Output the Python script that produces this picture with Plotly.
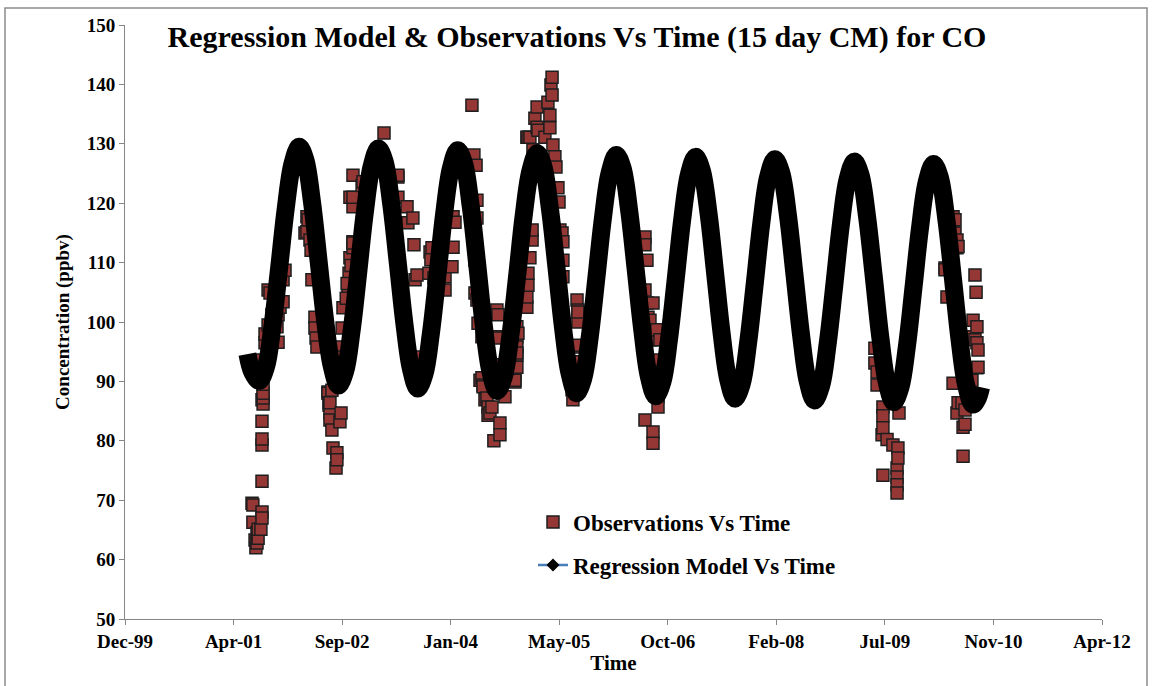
import plotly.graph_objects as go

chart_title = "Regression Model & Observations Vs Time (15 day CM) for CO"
x_title = "Time"
y_title = "Concentration (ppbv)"
obs_name = "Observations Vs Time"
model_name = "Regression Model Vs Time"

tick_dates = ["1999-12-06", "2001-04-19", "2002-09-01", "2004-01-14", "2005-05-28",
              "2006-10-10", "2008-02-22", "2009-07-06", "2010-11-18", "2012-04-01"]
tick_labels = ["Dec-99", "Apr-01", "Sep-02", "Jan-04", "May-05",
               "Oct-06", "Feb-08", "Jul-09", "Nov-10", "Apr-12"]
y_ticks = [50, 60, 70, 80, 90, 100, 110, 120, 130, 140, 150]

# Regression model (mid-month samples)
model_dates = [
    "2001-06-22", "2001-07-15", "2001-08-15", "2001-09-15", "2001-10-15", "2001-11-15", "2001-12-15",
    "2002-01-15", "2002-02-15", "2002-03-15", "2002-04-15", "2002-05-15", "2002-06-15",
    "2002-07-15", "2002-08-15", "2002-09-15", "2002-10-15", "2002-11-15", "2002-12-15",
    "2003-01-15", "2003-02-15", "2003-03-15", "2003-04-15", "2003-05-15", "2003-06-15",
    "2003-07-15", "2003-08-15", "2003-09-15", "2003-10-15", "2003-11-15", "2003-12-15",
    "2004-01-15", "2004-02-15", "2004-03-15", "2004-04-15", "2004-05-15", "2004-06-15",
    "2004-07-15", "2004-08-15", "2004-09-15", "2004-10-15", "2004-11-15", "2004-12-15",
    "2005-01-15", "2005-02-15", "2005-03-15", "2005-04-15", "2005-05-15", "2005-06-15",
    "2005-07-15", "2005-08-15", "2005-09-15", "2005-10-15", "2005-11-15", "2005-12-15",
    "2006-01-15", "2006-02-15", "2006-03-15", "2006-04-15", "2006-05-15", "2006-06-15",
    "2006-07-15", "2006-08-15", "2006-09-15", "2006-10-15", "2006-11-15", "2006-12-15",
    "2007-01-15", "2007-02-15", "2007-03-15", "2007-04-15", "2007-05-15", "2007-06-15",
    "2007-07-15", "2007-08-15", "2007-09-15", "2007-10-15", "2007-11-15", "2007-12-15",
    "2008-01-15", "2008-02-15", "2008-03-15", "2008-04-15", "2008-05-15", "2008-06-15",
    "2008-07-15", "2008-08-15", "2008-09-15", "2008-10-15", "2008-11-15", "2008-12-15",
    "2009-01-15", "2009-02-15", "2009-03-15", "2009-04-15", "2009-05-15", "2009-06-15",
    "2009-07-15", "2009-08-15", "2009-09-15", "2009-10-15", "2009-11-15", "2009-12-15",
    "2010-01-15", "2010-02-15", "2010-03-15", "2010-04-15", "2010-05-15", "2010-06-15",
    "2010-07-15", "2010-08-15", "2010-09-05", "2010-09-22",
]
model_values = [
    94.6, 91.5, 90.1, 92.4, 99.3, 109.1, 119.0,
    126.6, 129.5, 127.4, 120.3, 110.5, 100.2, 92.6, 89.3, 91.7, 98.6, 108.6, 118.6,
    126.2, 129.2, 127.1, 119.9, 110.1, 99.7, 92.1, 88.8, 91.2, 98.1, 108.2, 118.2,
    125.9, 128.9, 126.8, 119.6, 109.8, 99.3, 91.7, 88.4, 90.8, 97.7, 107.7, 117.8,
    125.4, 128.4, 126.3, 119.1, 109.3, 98.9, 91.3, 88.0, 90.4, 97.3, 107.4, 117.4,
    125.1, 128.1, 126.0, 118.8, 108.9, 98.5, 90.8, 87.5, 89.9, 96.9, 107.0, 117.1,
    124.8, 127.8, 125.6, 118.5, 108.6, 98.1, 90.4, 87.1, 89.5, 96.5, 106.6, 116.7,
    124.4, 127.4, 125.2, 118.1, 108.2, 97.8, 90.1, 86.8, 89.2, 96.2, 106.2, 116.3,
    124.0, 127.0, 124.9, 117.7, 107.9, 97.4, 89.8, 86.5, 88.9, 95.8, 105.9, 115.9,
    123.6, 126.6, 124.5, 117.3, 107.5, 97.0, 89.4, 86.1, 87.0, 89.0,
]

# Observations (15 day CM)
obs_dates = [
    # 2001
    "2001-07-13", "2001-07-17", "2001-07-17", "2001-07-27", "2001-07-31", "2001-08-05", "2001-08-05",
    "2001-08-10", "2001-08-10", "2001-08-23", "2001-08-28", "2001-08-28", "2001-08-28", "2001-08-28",
    "2001-08-28", "2001-08-28", "2001-08-28", "2001-08-28", "2001-09-02", "2001-09-02", "2001-09-02",
    "2001-09-02", "2001-09-02", "2001-09-11", "2001-09-11", "2001-09-25", "2001-09-25", "2001-10-04",
    "2001-10-04", "2001-10-13", "2001-10-27", "2001-11-05", "2001-11-10", "2001-11-10", "2001-11-19",
    "2001-12-03", "2001-12-03", "2001-12-12",
    # 2002
    "2002-03-14", "2002-03-23", "2002-03-23", "2002-03-28", "2002-04-06", "2002-04-11", "2002-04-15",
    "2002-04-29", "2002-04-29", "2002-05-04", "2002-05-08", "2002-06-28", "2002-06-28", "2002-07-03",
    "2002-07-03", "2002-07-07", "2002-07-07", "2002-07-07", "2002-07-16", "2002-07-16", "2002-07-21",
    "2002-08-04", "2002-08-08", "2002-08-08", "2002-08-22", "2002-08-22", "2002-08-22", "2002-08-27",
    "2002-09-01", "2002-09-05", "2002-09-28", "2002-10-03", "2002-10-07", "2002-10-07", "2002-10-21",
    "2002-10-21", "2002-10-21", "2002-10-21", "2002-10-21", "2002-10-21", "2002-12-02", "2002-12-06",
    "2002-09-20", "2002-09-24", "2002-10-12",
    # 2003
    "2003-03-13", "2003-05-16", "2003-05-16", "2003-05-16", "2003-06-27", "2003-07-01", "2003-07-24",
    "2003-07-29", "2003-08-03", "2003-08-12", "2003-08-16", "2003-10-06", "2003-10-11", "2003-10-20",
    "2003-10-29", "2003-12-19", "2003-12-19", "2003-11-10", "2003-10-15",
    # 2004
    "2004-01-20", "2004-01-25", "2004-01-25", "2004-02-03", "2004-04-21", "2004-04-30", "2004-05-05",
    "2004-05-05", "2004-05-10", "2004-05-14", "2004-05-14", "2004-05-14", "2004-05-19", "2004-05-28",
    "2004-06-06", "2004-06-06", "2004-06-11", "2004-06-11", "2004-06-20", "2004-06-29", "2004-07-04",
    "2004-07-04", "2004-07-13", "2004-07-22", "2004-07-31", "2004-08-14", "2004-08-14", "2004-08-14",
    "2004-08-19", "2004-08-19", "2004-08-28", "2004-08-28", "2004-09-20", "2004-11-05", "2004-11-05",
    "2004-11-05", "2004-11-05", "2004-11-14", "2004-11-14", "2004-11-14", "2004-11-14", "2004-11-14",
    "2004-11-14", "2004-11-19", "2004-12-21",
    # 2005
    "2004-12-30", "2004-12-30", "2004-12-30", "2005-01-04", "2005-01-04", "2005-01-04", "2005-01-13",
    "2005-01-13", "2005-01-23", "2005-01-23", "2005-01-27", "2005-02-05", "2005-02-15", "2005-02-15",
    "2005-02-19", "2005-03-23", "2005-04-06", "2005-04-15", "2005-04-15", "2005-04-20", "2005-04-25",
    "2005-04-25", "2005-04-29", "2005-05-08", "2005-05-13", "2005-05-22", "2005-05-27", "2005-05-31",
    "2005-06-10", "2005-06-14", "2005-06-14", "2005-06-14", "2005-07-26", "2005-07-30", "2005-08-09",
    "2005-08-09", "2005-08-18", "2005-08-18", "2005-08-18", "2005-08-22", "2005-08-22", "2005-08-22",
    # 2006
    "2006-06-04", "2006-06-27", "2006-06-27", "2006-06-27", "2006-06-27", "2006-07-06", "2006-07-06",
    "2006-07-11", "2006-07-20", "2006-07-20", "2006-07-29", "2006-08-03", "2006-08-03", "2006-08-03",
    "2006-08-03", "2006-08-12", "2006-08-12", "2006-08-21", "2006-08-26", "2006-08-26", "2006-09-04",
    # 2009
    "2009-05-21", "2009-05-21", "2009-05-31", "2009-05-31", "2009-06-23", "2009-06-27", "2009-06-27",
    "2009-06-27", "2009-06-27", "2009-07-16", "2009-08-12", "2009-08-31", "2009-08-31", "2009-08-31",
    "2009-08-31", "2009-09-04", "2009-09-04", "2009-09-09",
    # 2010
    "2010-04-09", "2010-04-09", "2010-04-18", "2010-05-16", "2010-05-16", "2010-05-16", "2010-05-25",
    "2010-05-25", "2010-06-03", "2010-06-03", "2010-06-03", "2010-06-08", "2010-06-08", "2010-06-26",
    "2010-07-01", "2010-07-01", "2010-07-10", "2010-07-10", "2010-08-11", "2010-08-16", "2010-08-16",
    "2010-08-25", "2010-08-25", "2010-08-30", "2010-09-03", "2010-09-03", "2010-09-03", "2010-09-08",
    "2010-09-08",
]
obs_values = [
    # 2001
    69.5, 69.2, 66.3, 63.3, 62.0, 62.8, 64.5,
    63.6, 65.1, 65.1, 68.0, 67.0, 73.2, 79.3,
    80.3, 83.3, 86.9, 93.6, 86.2, 87.2, 88.0,
    89.5, 91.0, 96.5, 98.0, 105.4, 99.5, 104.9,
    97.0, 101.2, 103.7, 99.2, 101.2, 96.6, 102.5,
    103.4, 107.1, 108.7,
    # 2002
    115.0, 117.7, 115.2, 117.2, 113.8, 112.1, 107.1,
    100.8, 99.0, 97.3, 95.8, 88.2, 88.0, 86.0,
    86.4, 84.7, 83.5, 86.4, 81.8, 88.5, 78.8,
    75.4, 78.0, 76.8, 83.2, 95.8, 94.1, 84.7,
    99.0, 102.4, 105.1, 108.2, 110.8, 121.0, 112.5,
    113.5, 119.4, 121.0, 124.7, 113.3, 123.0, 123.6,
    104.0, 106.5, 109.5,
    # 2003
    131.8, 124.4, 121.0, 124.7, 119.4, 116.7, 117.5,
    113.0, 107.1, 107.9, 94.1, 108.2, 111.8, 112.5,
    107.4, 107.6, 105.4, 106.8, 110.5,
    # 2004
    109.3, 117.7, 112.6, 116.8, 136.5, 128.1, 110.4,
    104.9, 126.4, 120.5, 117.5, 103.7, 99.8, 90.2,
    97.5, 90.6, 89.4, 89.1, 86.9, 87.2, 85.7,
    84.3, 84.7, 85.7, 80.0, 102.0, 97.5, 92.8,
    101.2, 97.3, 83.0, 81.0, 87.4, 93.1, 91.4,
    89.9, 90.2, 99.2, 97.5, 95.8, 94.4, 92.4,
    94.8, 98.1, 102.5,
    # 2005
    102.5, 104.2, 131.1, 106.2, 108.2, 131.1, 110.8,
    131.1, 113.8, 115.5, 129.0, 134.3, 136.2, 132.8,
    132.3, 131.1, 137.0, 132.7, 134.8, 139.9, 138.2,
    141.2, 129.8, 127.8, 126.1, 122.6, 120.2, 115.5,
    115.0, 113.5, 110.4, 107.6, 88.6, 86.9, 95.8,
    93.1, 103.7, 96.1, 93.3, 102.0, 100.0, 101.7,
    # 2006
    101.5, 114.3, 113.0, 105.4, 83.5, 110.4, 103.2,
    100.8, 97.0, 100.3, 90.2, 81.5, 79.6, 97.0,
    103.2, 93.6, 98.6, 98.7, 87.4, 85.7, 97.0,
    # 2009
    95.6, 93.1, 89.4, 91.6, 81.0, 85.7, 84.2,
    82.2, 74.2, 80.2, 79.3, 75.4, 73.9, 72.6,
    71.2, 78.8, 77.1, 84.7,
    # 2010
    109.1, 108.8, 104.2, 117.7, 116.3, 89.7, 115.0,
    117.2, 113.8, 112.5, 84.7, 86.4, 112.7, 86.4,
    77.4, 82.3, 85.2, 82.8, 90.2, 100.3, 97.5,
    107.9, 97.0, 105.0, 99.2, 96.5, 92.3, 95.3,
    92.4,
]

SERIF = "Liberation Serif, Times New Roman, serif"
AXIS_GREY = "#868686"

fig = go.Figure()

fig.add_trace(go.Scatter(
    x=obs_dates, y=obs_values, mode="markers", name=obs_name,
    marker=dict(symbol="square", size=12, color="#953735",
                line=dict(color="#1e1e1e", width=1.5)),
    legend="legend",
))

# legend entry for the model (blue line with black diamond)
fig.add_trace(go.Scatter(
    x=[None], y=[None], mode="lines+markers", name=model_name,
    line=dict(color="#4a7ebb", width=2.5),
    marker=dict(symbol="diamond", size=10, color="black"),
    legend="legend2",
))

# the model curve: dense black diamonds forming a thick band
fig.add_trace(go.Scatter(
    x=model_dates, y=model_values, mode="lines", showlegend=False,
    line=dict(color="black", width=18, shape="spline", smoothing=1.0),
))

L, R, T, B = 125, 50, 25, 67
W, H = 1152, 686
pw, ph = W - L - R, H - T - B

def px(x):
    return (x - L) / pw

def py(y):
    return (H - B - y) / ph

fig.update_layout(
    width=W, height=H,
    margin=dict(l=L, r=R, t=T, b=B, pad=0),
    paper_bgcolor="white", plot_bgcolor="white",
    font=dict(family=SERIF, color="black"),
    title=dict(text=chart_title, x=577 / W, xanchor="center", xref="container",
               y=1 - 36 / H, yanchor="middle", yref="container",
               font=dict(family=SERIF, size=30, weight="bold", color="black")),
    xaxis=dict(
        type="date", range=[tick_dates[0], tick_dates[-1]],
        tickmode="array", tickvals=tick_dates, ticktext=tick_labels,
        ticks="outside", ticklen=5, tickcolor=AXIS_GREY, tickwidth=1,
        showline=True, linecolor=AXIS_GREY, linewidth=1,
        showgrid=False, zeroline=False,
        tickfont=dict(family=SERIF, size=19, weight="bold", color="black"),
        title=dict(text=x_title, standoff=4,
                   font=dict(family=SERIF, size=21, weight="bold", color="black")),
    ),
    yaxis=dict(
        range=[50, 150], tickmode="array", tickvals=y_ticks,
        ticks="outside", ticklen=5, tickcolor=AXIS_GREY, tickwidth=1,
        showline=True, linecolor=AXIS_GREY, linewidth=1,
        showgrid=False, zeroline=False,
        tickfont=dict(family=SERIF, size=19, weight="bold", color="black"),
        title=dict(text=y_title, standoff=12,
                   font=dict(family=SERIF, size=19, weight="bold", color="black")),
    ),
    legend=dict(x=px(533), y=py(522), xanchor="left", yanchor="middle",
                bgcolor="rgba(0,0,0,0)", borderwidth=0,
                font=dict(family=SERIF, size=23, weight="bold", color="black")),
    legend2=dict(x=px(533), y=py(565), xanchor="left", yanchor="middle",
                 bgcolor="rgba(0,0,0,0)", borderwidth=0,
                 font=dict(family=SERIF, size=23, weight="bold", color="black")),
    showlegend=True,
    shapes=[dict(type="rect", xref="paper", yref="paper",
                 x0=px(5), x1=px(1147), y0=py(690), y1=py(8),
                 line=dict(color="#8c8c8c", width=1.5), fillcolor="rgba(0,0,0,0)",
                 layer="below")],
)

fig.write_html("out.html")
